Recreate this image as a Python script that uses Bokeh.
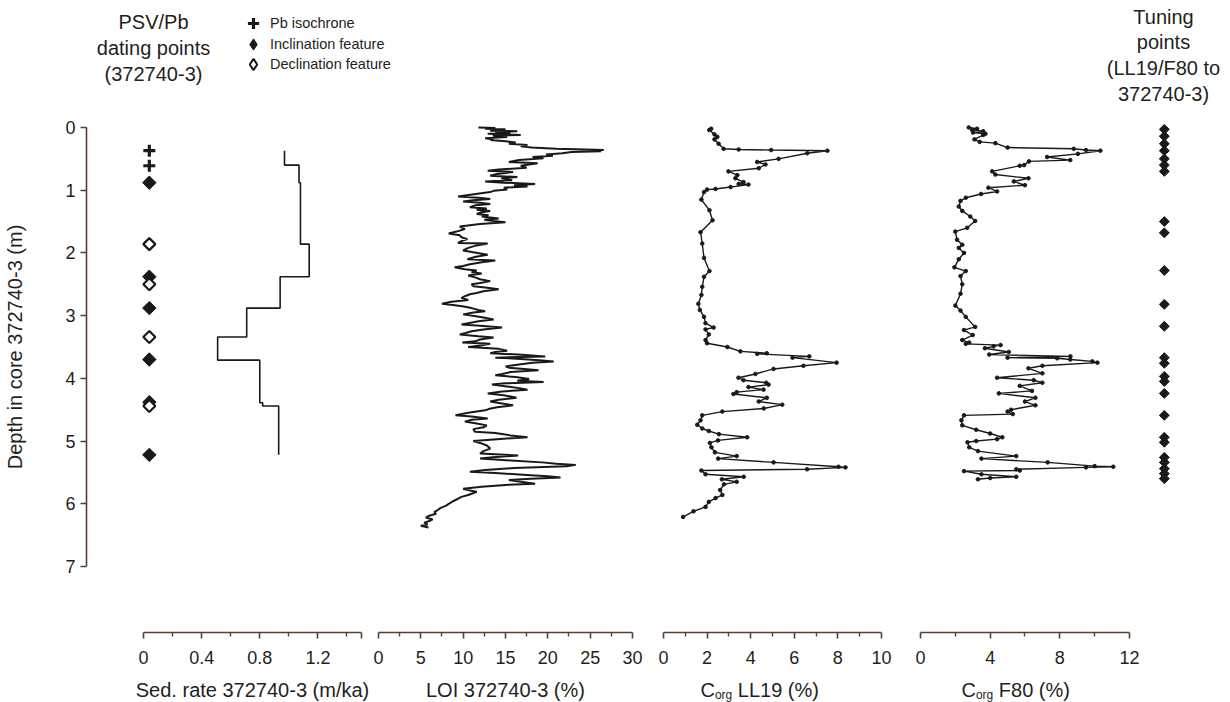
import math
from bokeh.plotting import figure
from bokeh.models import Range1d, LinearAxis, FixedTicker, Label, Legend, LegendItem
from bokeh.embed import file_html
from bokeh.resources import INLINE

# ---------------- data ----------------
depth_ticks = [0, 1, 2, 3, 4, 5, 6, 7]

dating_pb_depth = [0.37, 0.61]
dating_incl_depth = [0.88, 2.38, 2.88, 3.70, 4.38, 5.22]
dating_decl_depth = [1.86, 2.50, 3.34, 4.44]

sed_boundaries = [0.37, 0.60, 0.88, 1.86, 2.38, 2.88, 3.34, 3.71, 4.39, 4.44, 5.22]
sed_rate = [0.97, 1.07, 1.08, 1.14, 0.94, 0.71, 0.51, 0.80, 0.82, 0.93]

loi_depth = [0.00, 0.01, 0.02, 0.03, 0.05, 0.06, 0.07, 0.09, 0.10, 0.12, 0.13, 0.15, 0.17, 0.19, 0.20,
             0.22, 0.24, 0.26, 0.28, 0.30, 0.32, 0.34, 0.35, 0.36, 0.37, 0.38, 0.39, 0.41, 0.43, 0.45,
             0.47, 0.49, 0.52, 0.55, 0.57, 0.61, 0.64, 0.67, 0.69, 0.71, 0.74, 0.77, 0.79, 0.81, 0.84,
             0.86, 0.88, 0.90, 0.92, 0.94, 0.96, 0.99, 1.01, 1.03, 1.06, 1.10, 1.12, 1.14, 1.16, 1.18,
             1.20, 1.22, 1.24, 1.27, 1.29, 1.31, 1.33, 1.35, 1.38, 1.40, 1.42, 1.45, 1.47, 1.49, 1.51,
             1.54, 1.56, 1.58, 1.62, 1.66, 1.69, 1.72, 1.75, 1.78, 1.81, 1.84, 1.85, 1.88, 1.92, 1.96,
             1.99, 2.03, 2.06, 2.10, 2.12, 2.15, 2.18, 2.21, 2.23, 2.26, 2.28, 2.31, 2.33, 2.36, 2.39,
             2.42, 2.45, 2.48, 2.50, 2.53, 2.55, 2.58, 2.61, 2.64, 2.66, 2.69, 2.72, 2.75, 2.78, 2.81,
             2.83, 2.85, 2.88, 2.91, 2.93, 2.95, 2.98, 3.01, 3.03, 3.06, 3.09, 3.12, 3.14, 3.16, 3.19,
             3.22, 3.25, 3.28, 3.30, 3.33, 3.35, 3.38, 3.41, 3.43, 3.45, 3.48, 3.50, 3.53, 3.56, 3.58,
             3.60, 3.62, 3.65, 3.67, 3.69, 3.71, 3.73, 3.75, 3.78, 3.81, 3.83, 3.85, 3.87, 3.90, 3.93,
             3.95, 3.98, 4.01, 4.04, 4.06, 4.08, 4.10, 4.13, 4.16, 4.18, 4.21, 4.24, 4.27, 4.29, 4.31,
             4.34, 4.37, 4.40, 4.43, 4.46, 4.49, 4.51, 4.55, 4.59, 4.61, 4.64, 4.66, 4.69, 4.72, 4.75,
             4.78, 4.81, 4.85, 4.87, 4.91, 4.94, 4.97, 5.00, 5.03, 5.07, 5.12, 5.16, 5.20, 5.23, 5.26,
             5.28, 5.31, 5.34, 5.36, 5.38, 5.40, 5.43, 5.46, 5.49, 5.51, 5.54, 5.56, 5.58, 5.60, 5.62,
             5.65, 5.68, 5.70, 5.73, 5.76, 5.79, 5.81, 5.84, 5.86, 5.89, 5.92, 5.96, 6.00, 6.03, 6.07,
             6.10, 6.13, 6.16, 6.19, 6.22, 6.25, 6.27, 6.30, 6.33, 6.35, 6.38]
loi = [11.8, 13.8, 12.6, 15.0, 13.2, 16.4, 13.8, 15.6, 12.9, 16.8, 13.5, 15.2, 12.6, 13.6, 13.2,
       15.0, 16.2, 15.4, 17.6, 16.8, 18.1, 21.0, 24.5, 26.6, 25.0, 26.3, 22.8, 21.7, 19.8, 20.6,
       18.2, 19.5, 16.6, 15.4, 18.8, 16.8, 17.5, 14.2, 12.9, 15.9, 14.0, 13.2, 16.4, 14.5, 15.8,
       12.6, 14.8, 18.5, 16.0, 17.6, 14.8, 15.2, 13.6, 13.2, 11.5, 9.4, 11.8, 13.2, 11.2, 10.0,
       12.0, 13.2, 11.5, 10.8, 12.8, 11.6, 13.2, 12.2, 11.6, 13.0, 12.2, 14.2, 12.5, 13.6, 15.0,
       12.0, 10.8, 9.6, 10.2, 9.2, 8.3, 9.6, 9.8, 10.5, 9.8, 9.4, 12.9, 11.6, 10.6, 10.0,
       11.2, 12.9, 11.5, 10.5, 13.8, 12.2, 10.8, 10.0, 9.0, 10.2, 11.6, 11.0, 12.2, 10.6, 11.4,
       12.0, 13.2, 12.0, 11.0, 11.2, 12.6, 14.2, 12.4, 11.6, 10.8, 10.2, 9.8, 10.6, 8.6, 7.5,
       8.8, 9.9, 11.0, 11.8, 12.6, 11.2, 10.0, 11.5, 12.4, 13.6, 11.8, 10.6, 9.8, 12.0, 14.6,
       12.4, 11.0, 10.2, 9.6, 11.8, 13.6, 12.0, 11.4, 9.9, 13.2, 11.8, 10.6, 14.2, 15.2, 13.8,
       13.2, 16.5, 19.7, 13.8, 16.8, 19.0, 20.7, 18.2, 16.6, 15.0, 15.4, 17.2, 18.9, 15.6, 14.6,
       13.8, 16.2, 17.8, 16.4, 19.5, 15.0, 13.4, 15.2, 16.8, 17.6, 14.6, 12.9, 14.8, 15.6, 16.3,
       14.2, 13.2, 14.6, 15.9, 14.0, 13.0, 12.6, 10.6, 9.1, 11.0, 12.9, 11.0, 10.2, 11.6, 12.8,
       12.4, 11.2, 11.4, 13.8, 15.6, 17.6, 14.0, 11.2, 12.0, 12.8, 13.2, 12.4, 12.0, 16.5, 13.5,
       12.0, 15.6, 19.3, 21.0, 23.3, 22.2, 16.0, 12.6, 10.8, 13.8, 17.5, 20.0, 21.5, 18.0, 15.4,
       16.8, 18.5, 15.0, 12.2, 10.0, 10.8, 11.6, 11.0, 10.6, 9.8, 9.4, 8.8, 8.3, 8.0, 7.3,
       7.0, 6.6, 6.8, 6.0, 5.6, 6.4, 6.1, 5.4, 5.8, 5.0, 5.9]

ll19_depth = [0.02, 0.04, 0.11, 0.15, 0.19, 0.26, 0.34, 0.35, 0.36, 0.37, 0.41, 0.50, 0.55, 0.59, 0.65,
              0.70, 0.76, 0.81, 0.87, 0.90, 0.91, 0.95, 0.98, 0.99, 1.03, 1.15, 1.32, 1.48, 1.67, 1.85,
              2.08, 2.29, 2.38, 2.54, 2.67, 2.81, 2.91, 3.02, 3.12, 3.19, 3.22, 3.30, 3.39, 3.44, 3.50,
              3.57, 3.60, 3.61, 3.65, 3.67, 3.75, 3.80, 3.85, 3.93, 3.99, 4.03, 4.07, 4.10, 4.14, 4.18,
              4.22, 4.25, 4.31, 4.37, 4.42, 4.48, 4.53, 4.59, 4.67, 4.74, 4.80, 4.84, 4.89, 4.94, 4.99,
              5.03, 5.10, 5.18, 5.24, 5.28, 5.34, 5.41, 5.42, 5.45, 5.47, 5.53, 5.57, 5.61, 5.65, 5.69,
              5.78, 5.86, 5.91, 5.97, 6.05, 6.12, 6.21]
ll19 = [2.19, 2.10, 2.34, 2.47, 2.34, 2.53, 2.76, 3.45, 4.94, 7.52, 6.60, 5.28, 4.30, 4.68, 4.37,
        2.98, 3.39, 3.30, 3.67, 3.45, 3.90, 3.08, 2.39, 2.00, 1.86, 1.74, 2.11, 2.25, 1.70, 1.78,
        1.86, 2.11, 1.86, 1.78, 1.74, 1.60, 1.67, 1.86, 1.93, 2.30, 1.93, 2.08, 1.93, 2.00, 2.93,
        3.53, 4.74, 4.30, 6.69, 5.92, 7.94, 6.42, 5.05, 4.22, 3.44, 3.67, 4.71, 4.82, 3.90, 4.59,
        3.36, 3.21, 4.74, 4.37, 5.45, 4.60, 2.70, 1.78, 1.70, 1.55, 1.78, 2.08, 2.54, 3.84, 2.50,
        2.13, 2.20, 2.36, 3.36, 2.51, 5.05, 8.03, 8.35, 6.59, 1.74, 1.93, 3.68, 2.68, 3.36, 2.78,
        2.60, 2.70, 2.39, 2.08, 1.93, 1.38, 0.90]

f80_depth = [0.00, 0.02, 0.04, 0.06, 0.08, 0.10, 0.12, 0.19, 0.23, 0.25, 0.32, 0.34, 0.36, 0.37, 0.42,
             0.47, 0.52, 0.54, 0.60, 0.61, 0.70, 0.75, 0.81, 0.86, 0.92, 0.96, 1.02, 1.06, 1.12, 1.17,
             1.26, 1.33, 1.42, 1.49, 1.60, 1.66, 1.79, 1.87, 1.92, 2.00, 2.10, 2.23, 2.29, 2.37, 2.50,
             2.65, 2.84, 2.92, 3.02, 3.18, 3.23, 3.31, 3.39, 3.43, 3.45, 3.47, 3.49, 3.52, 3.58, 3.62,
             3.65, 3.67, 3.68, 3.70, 3.73, 3.75, 3.80, 3.84, 3.92, 3.99, 4.03, 4.07, 4.12, 4.20, 4.24,
             4.31, 4.37, 4.43, 4.50, 4.53, 4.57, 4.59, 4.67, 4.75, 4.82, 4.88, 4.94, 4.97, 5.00, 5.02,
             5.10, 5.16, 5.24, 5.28, 5.34, 5.40, 5.41, 5.42, 5.45, 5.47, 5.48, 5.53, 5.57, 5.59, 5.61]
f80 = [2.77, 3.25, 2.97, 3.60, 3.02, 3.73, 3.60, 3.10, 3.40, 4.30, 5.00, 8.80, 9.50, 10.33, 9.04,
       7.27, 8.60, 6.23, 5.95, 5.70, 4.12, 4.30, 6.20, 5.36, 6.00, 3.90, 4.40, 3.48, 2.60, 2.30,
       2.20, 2.40, 2.86, 3.14, 2.68, 2.00, 2.10, 2.40, 2.20, 2.50, 2.20, 1.95, 2.60, 2.30, 2.40,
       2.30, 2.00, 2.30, 2.60, 3.14, 2.50, 3.00, 2.40, 2.80, 2.60, 4.60, 4.20, 3.70, 5.07, 3.95,
       8.61, 5.00, 7.85, 8.60, 9.87, 10.16, 7.00, 6.20, 7.00, 4.40, 6.50, 7.00, 5.70, 6.40, 4.50,
       6.60, 6.00, 6.60, 5.20, 5.00, 5.30, 2.50, 2.35, 2.40, 3.20, 4.00, 4.70, 4.40, 3.20, 2.70,
       2.80, 3.30, 5.50, 3.50, 7.30, 10.00, 11.07, 9.50, 5.50, 5.70, 2.50, 3.50, 5.50, 4.00, 3.30]

tuning_depth = [0.03, 0.14, 0.26, 0.37, 0.50, 0.60, 0.70, 1.50, 1.68, 2.28, 2.82, 3.17, 3.67, 3.76,
                3.97, 4.05, 4.24, 4.59, 4.94, 5.02, 5.26, 5.34, 5.44, 5.52, 5.60]

legend_labels = ["Pb isochrone", "Inclination feature", "Declination feature"]

p1_ticks = [0, 0.4, 0.8, 1.2, 1.5]
p1_tick_labels = ["0", "0.4", "0.8", "1.2", ""]
p1_minor = [0.2, 0.6, 1.0, 1.4]
loi_ticks = [0, 5, 10, 15, 20, 25, 30]
loi_minor = [2.5, 7.5, 12.5, 17.5, 22.5, 27.5]
ll19_ticks = [0, 2, 4, 6, 8, 10]
ll19_minor = [1, 3, 5, 7, 9]
f80_ticks = [0, 4, 8, 12]
f80_minor = [2, 6, 10]

# ---------------- style ----------------
FONT = "Liberation Sans"
AXIS = "#5a3d2f"
INK = "#1b1918"
TXT = "#231f20"
W, H = 1230, 702
X_AXIS_DEPTH = 8.053      # depth at which the bottom axes are drawn
Y_AXIS_X = -0.392         # sed-rate units at which the depth axis is drawn
ROT = math.pi / 4         # squares turned into diamonds

p = figure(width=W, height=H,
           x_range=Range1d(-0.984, 7.479),          # sed-rate panel (m/ka)
           y_range=Range1d(start=9.169, end=-2.025),  # depth (m), reversed
           output_backend="svg", toolbar_location=None,
           x_axis_type=None, y_axis_type=None,
           min_border=0, min_border_left=0, min_border_right=0,
           min_border_top=0, min_border_bottom=0)
p.extra_x_ranges = {"loi": Range1d(-44.64, 100.63),
                    "ll19": Range1d(-30.41, 26.01),
                    "f80": Range1d(-52.82, 17.80)}
p.grid.visible = False
p.outline_line_color = None
p.background_fill_color = "white"
p.border_fill_color = "white"


def style_axis(ax):
    ax.axis_line_color = AXIS
    ax.axis_line_width = 1.6
    ax.major_tick_line_color = AXIS
    ax.major_tick_line_width = 1.6
    ax.minor_tick_line_color = AXIS
    ax.minor_tick_line_width = 1.4
    ax.major_tick_in = 0
    ax.minor_tick_in = 0
    ax.major_label_text_font = FONT
    ax.major_label_text_font_size = "18px"
    ax.major_label_text_color = TXT
    ax.axis_label_text_font = FONT
    ax.axis_label_text_font_size = "20px"
    ax.axis_label_text_font_style = "normal"
    ax.axis_label_text_color = TXT


def x_axis(range_name, bounds, ticks, minor, label=None, overrides=None):
    kw = {}
    if range_name:
        kw["x_range_name"] = range_name
    ax = LinearAxis(bounds=bounds, ticker=FixedTicker(ticks=ticks, minor_ticks=minor),
                    fixed_location=X_AXIS_DEPTH, **kw)
    style_axis(ax)
    ax.major_tick_out = 6
    ax.minor_tick_out = 4
    ax.major_label_standoff = 12
    if label:
        ax.axis_label = label
        ax.axis_label_standoff = 12
    if overrides:
        ax.major_label_overrides = overrides
    p.add_layout(ax, "below")
    return ax


# depth axis
yax = LinearAxis(bounds=(0, 7), ticker=FixedTicker(ticks=depth_ticks, minor_ticks=[]),
                 fixed_location=Y_AXIS_X)
style_axis(yax)
yax.major_tick_out = 6
yax.major_label_standoff = 5
yax.axis_label = "Depth in core 372740-3 (m)"
yax.axis_label_standoff = 36
p.add_layout(yax, "left")

# bottom axes
x_axis(None, (0, 1.5), p1_ticks, p1_minor, "Sed. rate 372740-3 (m/ka)",
       dict(zip(p1_ticks, p1_tick_labels)))
x_axis("loi", (0, 30), loi_ticks, loi_minor, "LOI 372740-3 (%)")
x_axis("ll19", (0, 10), ll19_ticks, ll19_minor)
x_axis("f80", (0, 12), f80_ticks, f80_minor)

# ---------------- panel 1: dating points + sedimentation rate ----------------
sx, sy = [], []
for i, r in enumerate(sed_rate):
    sx += [r, r]
    sy += [sed_boundaries[i], sed_boundaries[i + 1]]
p.line(sx, sy, line_color=INK, line_width=1.6)

DATING_X = 0.04
r_pb = p.scatter([DATING_X] * len(dating_pb_depth), dating_pb_depth, marker="cross",
                 size=12, line_color=INK, line_width=3.2)
p.scatter([DATING_X] * len(dating_incl_depth), dating_incl_depth, marker="square",
          angle=ROT, size=9.5, fill_color=INK, line_color=INK, line_width=1)
p.scatter([DATING_X] * len(dating_decl_depth), dating_decl_depth, marker="square",
          angle=ROT, size=8.5, fill_color="white", line_color=INK, line_width=2.2)

# legend keys (diamond glyphs, only shown in the legend)
k_inc = p.scatter([DATING_X], dating_incl_depth[:1], marker="diamond", fill_color=INK,
                  line_color=INK, line_width=1, visible=False)
k_dec = p.scatter([DATING_X], dating_decl_depth[:1], marker="diamond", fill_color="white",
                  line_color=INK, line_width=2.0, visible=False)

legend_rows = [(r_pb, 665), (k_inc, 644), (k_dec, 624)]
for (rend, ypos), lab in zip(legend_rows, legend_labels):
    lg = Legend(items=[LegendItem(label=lab, renderers=[rend])],
                location=(239, ypos), orientation="vertical",
                glyph_width=28, glyph_height=28, label_height=28, spacing=0,
                padding=0, margin=0, label_standoff=3,
                border_line_color=None, background_fill_alpha=0,
                inactive_fill_alpha=0,
                label_text_font=FONT, label_text_font_size="14.5px", label_text_color=TXT)
    p.add_layout(lg)

p.add_layout(Label(x=153, y=H - 10, x_units="screen", y_units="screen",
                   text="PSV/Pb\ndating points\n(372740-3)", text_align="center",
                   text_baseline="top", text_font=FONT, text_font_size="20px",
                   text_color=TXT, text_line_height=1.2))

# ---------------- panel 2: LOI ----------------
p.line(loi, loi_depth, x_range_name="loi", line_color=INK, line_width=2.0)

# ---------------- panel 3: Corg LL19 ----------------
p.line(ll19, ll19_depth, x_range_name="ll19", line_color=INK, line_width=1.4)
p.scatter(ll19, ll19_depth, x_range_name="ll19", size=3.6, color=INK)

# ---------------- panel 4: Corg F80 + tuning points ----------------
p.line(f80, f80_depth, x_range_name="f80", line_color=INK, line_width=1.4)
p.scatter(f80, f80_depth, x_range_name="f80", size=3.6, color=INK)
TUNE_X = 14.0
p.scatter([TUNE_X] * len(tuning_depth), tuning_depth, x_range_name="f80", marker="square",
          angle=ROT, size=7, fill_color=INK, line_color=INK)

p.add_layout(Label(x=1163, y=H - 5, x_units="screen", y_units="screen",
                   text="Tuning\npoints\n(LL19/F80 to\n372740-3)", text_align="center",
                   text_baseline="top", text_font=FONT, text_font_size="20px",
                   text_color=TXT, text_line_height=1.18))


def corg_title(x, rest):
    base = 13
    p.add_layout(Label(x=x, y=base, x_units="screen", y_units="screen", text="C",
                       text_font=FONT, text_font_size="20px", text_color=TXT,
                       text_baseline="alphabetic"))
    p.add_layout(Label(x=x + 14.4, y=base - 5, x_units="screen", y_units="screen", text="org",
                       text_font=FONT, text_font_size="12px", text_color=TXT,
                       text_baseline="alphabetic"))
    p.add_layout(Label(x=x + 37.3, y=base, x_units="screen", y_units="screen", text=rest,
                       text_font=FONT, text_font_size="20px", text_color=TXT,
                       text_baseline="alphabetic"))


corg_title(700, "LL19 (%)")
corg_title(961, "F80 (%)")

open("out.html", "w").write(file_html(p, INLINE))
